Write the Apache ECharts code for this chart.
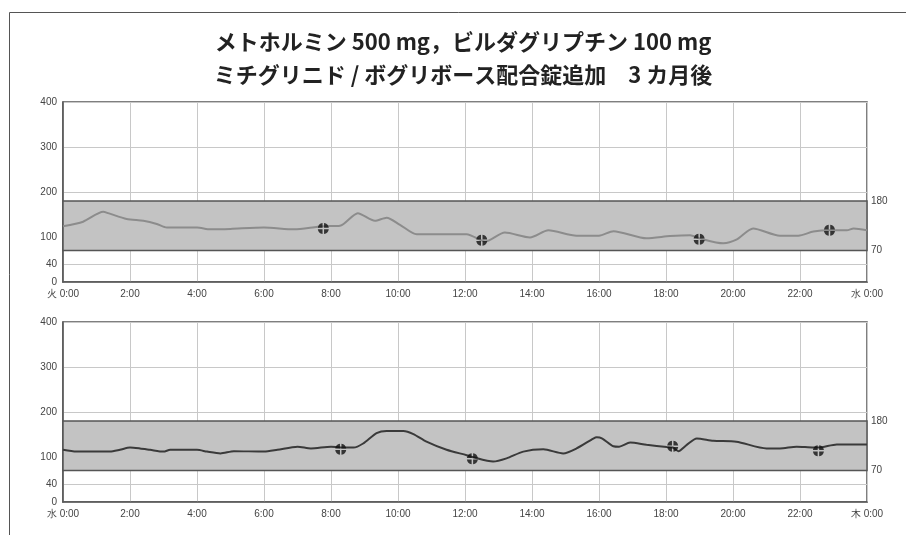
<!DOCTYPE html>
<html>
<head>
<meta charset="utf-8">
<script src="https://cdn.jsdelivr.net/npm/echarts@6/dist/echarts.min.js"></script>
<style>
  html, body { margin: 0; padding: 0; background: #fff; }
  #chart { width: 906px; height: 535px; }
</style>
</head>
<body>
<div id="chart"></div>
<script>
// タイトル
const titleLines = [
  'メトホルミン 500 mg，ビルダグリプチン 100 mg',
  'ミチグリニド / ボグリボース配合錠追加　3 カ月後'
];

// 目盛
const yTicks = [0, 40, 100, 200, 300, 400];
const rangeTicks = [70, 180]; // 目標範囲
const xLabels1 = ['火 0:00', '2:00', '4:00', '6:00', '8:00', '10:00', '12:00', '14:00', '16:00', '18:00', '20:00', '22:00', '水 0:00'];
const xLabels2 = ['水 0:00', '2:00', '4:00', '6:00', '8:00', '10:00', '12:00', '14:00', '16:00', '18:00', '20:00', '22:00', '木 0:00'];

// 上段 (火曜) の血糖推移
const hours1 = [0, 0.6, 1.2, 1.35, 1.9, 2.4, 2.8, 3.1, 4.0, 4.4, 5.0, 6.0, 6.9, 7.6, 7.8, 8.27, 8.8, 9.31, 9.66, 10.06, 10.56, 12.05, 12.6, 13.19, 13.94, 14.49, 15.33, 16.0, 16.43, 17.42, 18.12, 18.72, 19.0, 19.71, 20.1, 20.6, 21.4, 21.95, 22.4, 22.88, 23.4, 23.6, 24];
const glucose1 = [124, 134, 156, 153, 140, 136, 129, 121, 121, 117, 118, 121, 117, 123, 124, 125, 153, 136, 143, 127, 106, 106, 90, 110, 99, 115, 103, 103, 113, 97, 102, 104, 97, 86, 94, 119, 103, 103, 112, 115, 115, 119, 115];
const mealHours1 = [7.77, 12.5, 18.99, 22.88];
const mealValues1 = [119, 93, 95, 115];

// 下段 (水曜) の血糖推移
const hours2 = [0, 0.4, 1.4, 1.7, 2.0, 2.3, 2.6, 3.0, 3.2, 4.0, 4.3, 4.7, 5.1, 6.0, 6.4, 7.0, 7.4, 8.0, 8.29, 8.67, 8.96, 9.36, 9.66, 10.16, 10.46, 10.85, 11.45, 12.05, 12.22, 12.84, 13.24, 13.74, 14.34, 14.93, 15.33, 15.83, 15.93, 16.1, 16.43, 16.6, 16.93, 17.42, 18.02, 18.2, 18.37, 18.62, 18.92, 19.41, 20.1, 21.0, 21.4, 21.9, 22.4, 22.55, 23.1, 24];
const glucose2 = [116, 112, 112, 116, 121, 119, 116, 112, 116, 116, 112, 108, 113, 112, 116, 123, 119, 123, 121, 121, 130, 153, 158, 158, 151, 134, 116, 104, 100, 90, 97, 112, 117, 108, 119, 141, 144, 141, 124, 123, 132, 127, 122, 121, 113, 127, 141, 136, 134, 119, 119, 123, 121, 121, 128, 128];
const mealHours2 = [8.29, 12.22, 18.2, 22.55];
const mealValues2 = [117, 96, 124, 114];

const zip = (xs, ys) => xs.map((x, i) => [x, ys[i]]);

// 十字入りの黒丸 (食事マーカー)
const mealSymbol = 'path://M9.5,9.5L9.5,0.1A11,11 0 0 0 0.1,9.5Z' +
  'M12.5,9.5L21.9,9.5A11,11 0 0 0 12.5,0.1Z' +
  'M12.5,12.5L12.5,21.9A11,11 0 0 0 21.9,12.5Z' +
  'M9.5,12.5L0.1,12.5A11,11 0 0 0 9.5,21.9Z';

const labelFont = { fontFamily: 'Liberation Sans', fontSize: 10, color: '#444' };

const chart = echarts.init(document.getElementById('chart'));

function makeX(idx, labels) {
  return {
    type: 'value', gridIndex: idx, min: 0, max: 24, interval: 2,
    axisLine: { show: true, lineStyle: { color: '#555', width: 1.5 } },
    axisTick: { show: false },
    axisLabel: Object.assign({ margin: 7, formatter: v => labels[Math.round(v / 2)] }, labelFont),
    splitLine: { show: true, lineStyle: { color: '#c8c8c8', width: 1 } }
  };
}

function makeYLeft(idx) {
  return {
    type: 'value', gridIndex: idx, min: 0, max: 400,
    axisLine: { show: true, lineStyle: { color: '#555', width: 1.5 } },
    axisTick: { show: false, customValues: yTicks },
    axisLabel: Object.assign({ margin: 6, customValues: yTicks }, labelFont),
    splitLine: { show: true, lineStyle: { color: '#c8c8c8', width: 1 } }
  };
}

function makeYRight(idx) {
  return {
    type: 'value', gridIndex: idx, min: 0, max: 400, position: 'right',
    axisLine: { show: false },
    axisTick: { show: false, customValues: rangeTicks },
    axisLabel: Object.assign({ margin: 4, customValues: rangeTicks }, labelFont),
    splitLine: { show: false }
  };
}

function makeSeries(idx, hours, values, mealH, mealV, color) {
  return [
    {
      type: 'line', xAxisIndex: idx, yAxisIndex: idx * 2,
      data: zip(hours, values), symbol: 'none', smooth: 0.25,
      lineStyle: { color: color, width: 2 },
      z: 3,
      markArea: {
        silent: true,
        itemStyle: { color: '#c3c3c3', borderColor: '#555', borderWidth: 1.5 },
        data: [[{ yAxis: rangeTicks[0] }, { yAxis: rangeTicks[1] }]]
      }
    },
    {
      type: 'scatter', xAxisIndex: idx, yAxisIndex: idx * 2,
      data: zip(mealH, mealV), symbol: mealSymbol, symbolSize: 11,
      itemStyle: { color: '#111' }, z: 4
    }
  ];
}

const option = {
  backgroundColor: '#fff',
  animation: false,
  graphic: [
    {
      type: 'rect', silent: true,
      shape: { x: 9.5, y: 12.5, width: 1000, height: 1000 },
      style: { fill: 'none', stroke: '#555', lineWidth: 1 }
    },
    {
      type: 'text', x: 463, y: 42,
      style: { text: titleLines[0], textAlign: 'center', textVerticalAlign: 'middle', fontFamily: 'Noto Sans CJK JP', fontWeight: 'bold', fontSize: 22, fill: '#222' }
    },
    {
      type: 'text', x: 463, y: 75,
      style: { text: titleLines[1], textAlign: 'center', textVerticalAlign: 'middle', fontFamily: 'Noto Sans CJK JP', fontWeight: 'bold', fontSize: 22, fill: '#222' }
    }
  ],
  grid: [
    { left: 63, top: 102, width: 804, height: 180, show: true, borderColor: '#555', borderWidth: 1.5 },
    { left: 63, top: 322, width: 804, height: 180, show: true, borderColor: '#555', borderWidth: 1.5 }
  ],
  xAxis: [makeX(0, xLabels1), makeX(1, xLabels2)],
  yAxis: [makeYLeft(0), makeYRight(0), makeYLeft(1), makeYRight(1)],
  series: [].concat(
    makeSeries(0, hours1, glucose1, mealHours1, mealValues1, '#8c8c8c'),
    makeSeries(1, hours2, glucose2, mealHours2, mealValues2, '#3a3a3a')
  )
};

chart.setOption(option);
</script>
</body>
</html>
